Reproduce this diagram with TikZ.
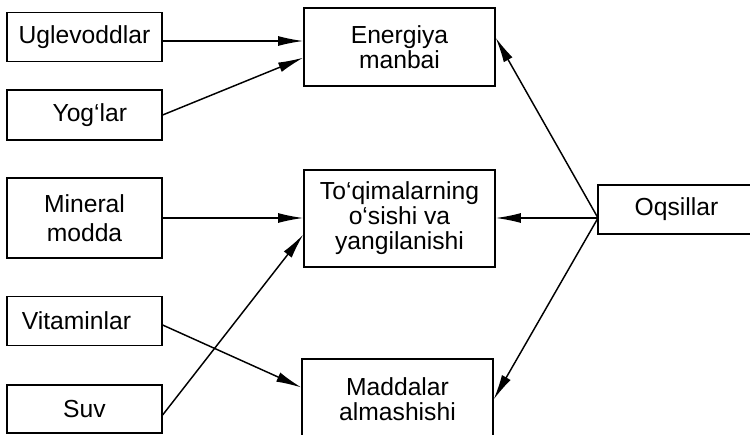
\documentclass[tikz,border=0pt]{standalone}
\usepackage{fontspec}
\setmainfont{Liberation Sans}
\usetikzlibrary{arrows.meta}
\tikzset{
  blok/.style={draw, line width=1.2pt, align=center, inner sep=0pt, font=\fontsize{18.5}{18.75}\selectfont},
  strelka/.style={-{Latex[length=19pt,width=7.5pt]}, line width=1.1pt}
}
\begin{document}
\begin{tikzpicture}[x=0.75pt,y=0.75pt,yscale=-1,xscale=1]
    \useasboundingbox (0,0) rectangle (750,435);
    % Left column
    \node [blok, minimum width=116pt, minimum height=37pt] (uglevod) at (84.5,37) {Uglevoddlar};
    \node [blok, minimum width=116pt, minimum height=37.5pt] (yog) at (84.5,115) {\hspace{8pt}Yog‘lar};
    \node [blok, minimum width=116pt, minimum height=60pt] (mineral) at (84.5,218) {Mineral\\[3pt]modda};
    \node [blok, minimum width=116pt, minimum height=37pt] (vitamin) at (84.5,321) {Vitaminlar\hspace{12pt}};
    \node [blok, minimum width=116pt, minimum height=36pt] (suv) at (84.5,409) {Suv};
    % Middle column
    \node [blok, minimum width=143pt, minimum height=58.5pt] (energiya) at (399.5,47) {Energiya\\manbai};
    \node [blok, minimum width=143pt, minimum height=73pt] (toqima) at (399.5,218.5) {To‘qimalarning\\o‘sishi va\\yangilanishi};
    \node [blok, minimum width=143pt, minimum height=61pt] (modda) at (397.5,399.5) {Maddalar\\almashishi};
    % Right
    \node [blok, minimum width=118pt, minimum height=37pt] (oqsil) at (676.5,209.5) {Oqsillar};
    \coordinate (oq) at (598,218);

    % Arrows
    \draw [strelka] ([yshift=3pt]uglevod.east) -- ([yshift=3pt]uglevod.east -| energiya.west);
    \draw [strelka] (yog.east) -- ([yshift=8pt]energiya.west);
    \draw [strelka] (mineral.east) -- (mineral.east -| toqima.west);
    \draw [strelka] ([yshift=4.5pt]suv.east) -- ([yshift=12pt]toqima.west);
    \draw [strelka] ([yshift=3pt]vitamin.east) -- ([yshift=-9pt]modda.west);
    \draw [strelka] (oq) -- ([yshift=-7pt]energiya.east);
    \draw [strelka] (oq) -- (oq -| toqima.east);
    \draw [strelka] (oq) -- (modda.east);
\end{tikzpicture}
\end{document}
